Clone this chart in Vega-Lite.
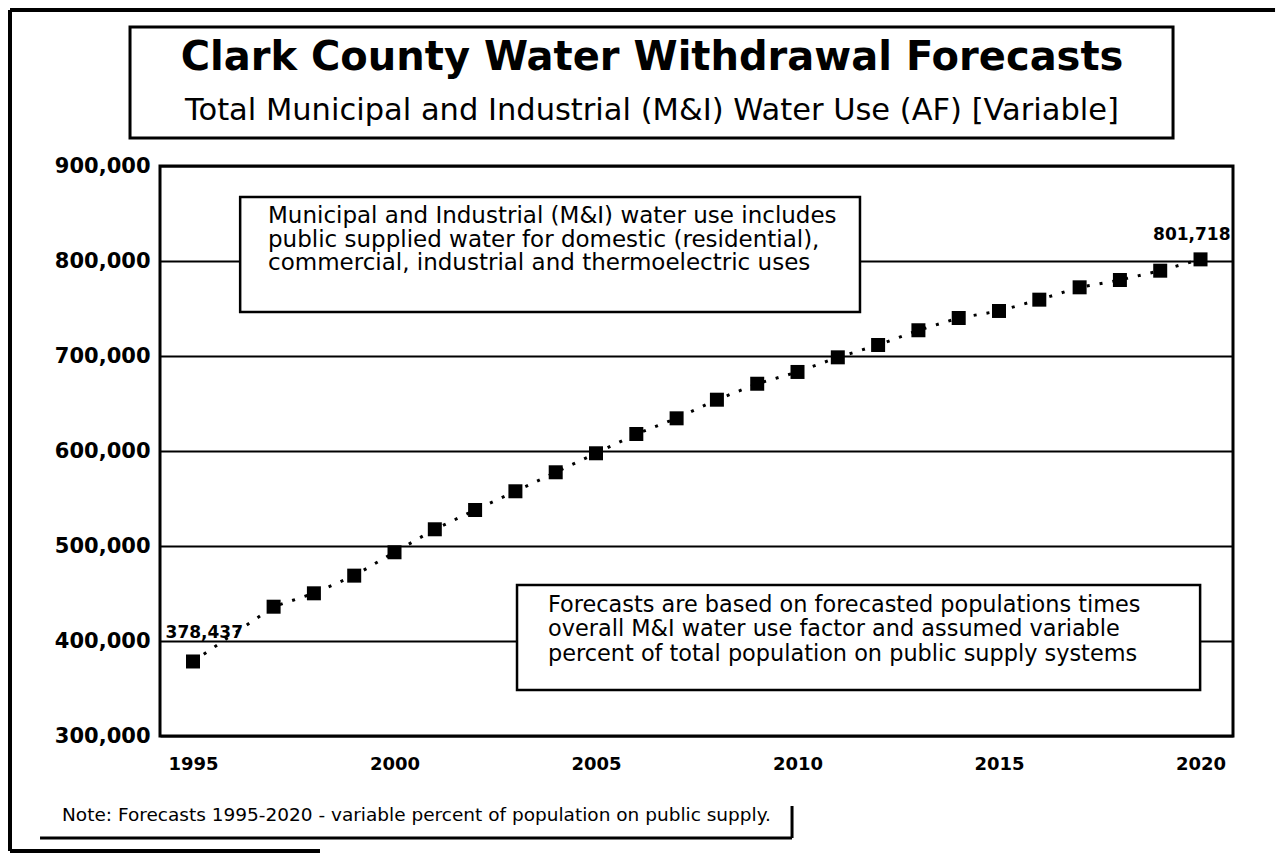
{
  "$schema": "https://vega.github.io/schema/vega-lite/v6.json",
  "width": 1073,
  "height": 570,
  "autosize": {"type": "none"},
  "padding": {"left": 160, "top": 166, "right": 52, "bottom": 123},
  "background": "white",
  "config": {
    "view": {"stroke": "black", "strokeWidth": 3},
    "font": "DejaVu Sans",
    "text": {"font": "DejaVu Sans", "color": "black"}
  },
  "datasets": {
    "mi": [
      {"year": 1995, "use": 378437},
      {"year": 1997, "use": 436100},
      {"year": 1998, "use": 450200},
      {"year": 1999, "use": 468800},
      {"year": 2000, "use": 493400},
      {"year": 2001, "use": 517600},
      {"year": 2002, "use": 537900},
      {"year": 2003, "use": 557600},
      {"year": 2004, "use": 577600},
      {"year": 2005, "use": 597600},
      {"year": 2006, "use": 617900},
      {"year": 2007, "use": 634400},
      {"year": 2008, "use": 654000},
      {"year": 2009, "use": 670800},
      {"year": 2010, "use": 683200},
      {"year": 2011, "use": 698600},
      {"year": 2012, "use": 711600},
      {"year": 2013, "use": 727100},
      {"year": 2014, "use": 740000},
      {"year": 2015, "use": 747400},
      {"year": 2016, "use": 759300},
      {"year": 2017, "use": 772300},
      {"year": 2018, "use": 780000},
      {"year": 2019, "use": 789800},
      {"year": 2020, "use": 801718}
    ],
    "one": [{}]
  },
  "layer": [
    {
      "data": {"name": "mi"},
      "mark": {"type": "line", "color": "black", "strokeWidth": 3, "strokeDash": [3, 10], "strokeCap": "butt"},
      "encoding": {
        "x": {
          "field": "year", "type": "quantitative",
          "scale": {"domain": [1994.181, 2020.806], "nice": false, "zero": false},
          "axis": {
            "values": [1995, 2000, 2005, 2010, 2015, 2020], "format": "d", "title": null,
            "ticks": false, "domain": false, "grid": false,
            "labelFontSize": 18, "labelFontWeight": "bold", "labelColor": "black",
            "labelPadding": 19, "labelOverlap": false, "labelFont": "DejaVu Sans"
          }
        },
        "y": {
          "field": "use", "type": "quantitative",
          "scale": {"domain": [300000, 900000], "nice": false, "zero": false},
          "axis": {
            "values": [300000, 400000, 500000, 600000, 700000, 800000, 900000], "format": ",d", "title": null,
            "ticks": false, "domain": false, "grid": true, "gridColor": "black", "gridWidth": 2, "gridOpacity": 1,
            "labelFontSize": 21, "labelFontWeight": "bold", "labelColor": "black",
            "labelPadding": 10, "labelOverlap": false, "labelFont": "DejaVu Sans"
          }
        }
      }
    },
    {
      "data": {"name": "one"},
      "mark": {"type": "rule", "color": "black", "strokeWidth": 4},
      "encoding": {"x": {"datum": 1990.459}, "y": {"datum": 1064211}, "y2": {"datum": 179000}}
    },
    {
      "data": {"name": "one"},
      "mark": {"type": "rule", "color": "black", "strokeWidth": 4},
      "encoding": {"y": {"datum": 1064211}, "x": {"datum": 1990.459}, "x2": {"datum": 2021.849}}
    },
    {
      "data": {"name": "one"},
      "mark": {"type": "rule", "color": "black", "strokeWidth": 4},
      "encoding": {"y": {"datum": 179000}, "x": {"datum": 1990.459}, "x2": {"datum": 1998.151}}
    },
    {
      "data": {"name": "one"},
      "mark": {"type": "rect", "fill": "white", "stroke": "black", "strokeWidth": 3},
      "encoding": {"x": {"datum": 1993.437}, "x2": {"datum": 2019.318}, "y": {"datum": 1046316}, "y2": {"datum": 929474}}
    },
    {
      "data": {"name": "one"},
      "mark": {"type": "text", "text": "Clark County Water Withdrawal Forecasts", "fontSize": 40, "fontWeight": "bold", "align": "center", "baseline": "middle"},
      "encoding": {"x": {"datum": 2006.39}, "y": {"datum": 1013684}}
    },
    {
      "data": {"name": "one"},
      "mark": {"type": "text", "text": "Total Municipal and Industrial (M&I) Water Use (AF) [Variable]", "fontSize": 30.5, "align": "center", "baseline": "middle"},
      "encoding": {"x": {"datum": 2006.39}, "y": {"datum": 957895}}
    },
    {
      "data": {"name": "one"},
      "mark": {"type": "rect", "fill": "white", "stroke": "black", "strokeWidth": 2.5},
      "encoding": {"x": {"datum": 1996.17}, "x2": {"datum": 2011.55}, "y": {"datum": 867369}, "y2": {"datum": 746320}}
    },
    {
      "data": {"name": "one"},
      "mark": {
        "type": "text",
        "text": ["Municipal and Industrial (M&I) water use includes", "public supplied water for domestic (residential),", "commercial, industrial and thermoelectric uses"],
        "fontSize": 23, "lineHeight": 23.5, "align": "left", "baseline": "top"
      },
      "encoding": {"x": {"datum": 1996.861}, "y": {"datum": 858947}}
    },
    {
      "data": {"name": "one"},
      "mark": {"type": "rect", "fill": "white", "stroke": "black", "strokeWidth": 2.5},
      "encoding": {"x": {"datum": 2003.04}, "x2": {"datum": 2019.99}, "y": {"datum": 458971}, "y2": {"datum": 348438}}
    },
    {
      "data": {"name": "one"},
      "mark": {
        "type": "text",
        "text": ["Forecasts are based on forecasted populations times", "overall M&I water use factor and assumed variable", "percent of total population on public supply systems"],
        "fontSize": 22.4, "lineHeight": 24.5, "align": "left", "baseline": "top"
      },
      "encoding": {"x": {"datum": 2003.809}, "y": {"datum": 449474}}
    },
    {
      "data": {"name": "mi"},
      "mark": {"type": "square", "color": "black", "filled": true, "opacity": 1, "size": 196},
      "encoding": {"x": {"field": "year", "type": "quantitative"}, "y": {"field": "use", "type": "quantitative"}}
    },
    {
      "data": {"name": "mi"},
      "transform": [{"filter": "datum.year == 1995"}],
      "mark": {"type": "text", "fontSize": 17, "fontWeight": "bold", "align": "right", "baseline": "middle", "dx": 50, "dy": -28},
      "encoding": {"x": {"field": "year", "type": "quantitative"}, "y": {"field": "use", "type": "quantitative"}, "text": {"field": "use", "type": "quantitative", "format": ",d"}}
    },
    {
      "data": {"name": "mi"},
      "transform": [{"filter": "datum.year == 2020"}],
      "mark": {"type": "text", "fontSize": 17, "fontWeight": "bold", "align": "right", "baseline": "middle", "dx": 30, "dy": -24},
      "encoding": {"x": {"field": "year", "type": "quantitative"}, "y": {"field": "use", "type": "quantitative"}, "text": {"field": "use", "type": "quantitative", "format": ",d"}}
    },
    {
      "data": {"name": "one"},
      "mark": {"type": "rule", "color": "black", "strokeWidth": 3},
      "encoding": {"y": {"datum": 192632}, "x": {"datum": 1991.204}, "x2": {"datum": 2009.864}}
    },
    {
      "data": {"name": "one"},
      "mark": {"type": "rule", "color": "black", "strokeWidth": 3},
      "encoding": {"x": {"datum": 2009.864}, "y": {"datum": 226316}, "y2": {"datum": 192632}}
    },
    {
      "data": {"name": "one"},
      "mark": {"type": "text", "text": "Note: Forecasts 1995-2020 - variable percent of population on public supply.", "fontSize": 18.5, "align": "left", "baseline": "middle"},
      "encoding": {"x": {"datum": 1991.749}, "y": {"datum": 216843}}
    }
  ]
}
